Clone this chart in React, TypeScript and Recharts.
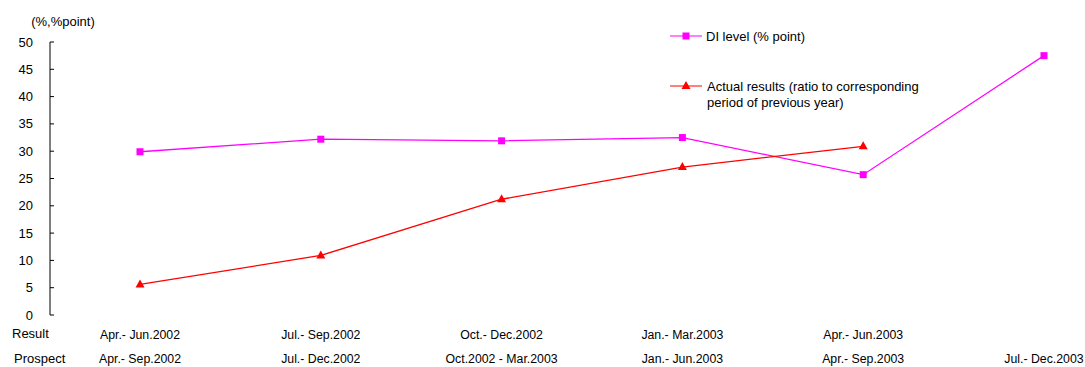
import React from 'react';
import { Legend, Line, LineChart, XAxis, YAxis } from 'recharts';

// Survey periods: the result period and the prospect period share one slot
const resultPeriods = [
  'Apr.- Jun.2002',
  'Jul.- Sep.2002',
  'Oct.- Dec.2002',
  'Jan.- Mar.2003',
  'Apr.- Jun.2003',
  '',
];
const prospectPeriods = [
  'Apr.- Sep.2002',
  'Jul.- Dec.2002',
  'Oct.2002 - Mar.2003',
  'Jan.- Jun.2003',
  'Apr.- Sep.2003',
  'Jul.- Dec.2003',
];

// DI level (% point) and actual results (ratio to same period of previous year)
const diLevel = [29.9, 32.2, 31.9, 32.5, 25.7, 47.5];
const actualResults: (number | null)[] = [5.6, 10.9, 21.2, 27.1, 30.9, null];

const yTicks = [0, 5, 10, 15, 20, 25, 30, 35, 40, 45, 50];

const data = prospectPeriods.map((period, i) => ({
  period,
  result: resultPeriods[i],
  di: diLevel[i],
  actual: actualResults[i],
}));

const MAGENTA = '#FF00FF';
const RED = '#FF0000';
const FONT = '"Liberation Sans", Arial, sans-serif';

const SquareDot = (props: any) => {
  const { cx, cy, index } = props;
  if (cx == null || cy == null) return <g key={`sq-${index}`} />;
  return <rect key={`sq-${index}`} x={cx - 3.5} y={cy - 3.5} width={7} height={7} fill={MAGENTA} />;
};

const TriangleDot = (props: any) => {
  const { cx, cy, index } = props;
  if (cx == null || cy == null) return <g key={`tr-${index}`} />;
  return (
    <polygon
      key={`tr-${index}`}
      points={`${cx},${cy - 5} ${cx - 4.5},${cy + 3} ${cx + 4.5},${cy + 3}`}
      fill={RED}
    />
  );
};

// y ticks point inwards, labels sit well left of the axis
const YTick = (props: any) => {
  const { x, y, payload } = props;
  return (
    <g>
      <line x1={x} y1={y} x2={x + 4} y2={y} stroke="#000" />
      <text x={x - 17} y={y + 4.5} textAnchor="end" fontSize={13} fill="#000" fontFamily={FONT}>
        {payload.value}
      </text>
    </g>
  );
};

// two rows of period labels under each point
const XTick = (props: any) => {
  const { x, y, index } = props;
  return (
    <g>
      <text x={x} y={y + 24} textAnchor="middle" fontSize={12.3} fill="#000" fontFamily={FONT}>
        {resultPeriods[index]}
      </text>
      <text x={x} y={y + 48} textAnchor="middle" fontSize={12.3} fill="#000" fontFamily={FONT}>
        {prospectPeriods[index]}
      </text>
    </g>
  );
};

const RowLabels = (props: any) => {
  const { viewBox } = props;
  return (
    <g fontFamily={FONT} fontSize={13} fill="#000">
      <text x={viewBox.x - 38} y={viewBox.y + 23}>Result</text>
      <text x={viewBox.x - 36} y={viewBox.y + 48}>Prospect</text>
    </g>
  );
};

const UnitLabel = (props: any) => {
  const { viewBox } = props;
  return (
    <text
      x={viewBox.x + viewBox.width + 13}
      y={26}
      textAnchor="middle"
      fontSize={13}
      fill="#000"
      fontFamily={FONT}
    >
      (%,%point)
    </text>
  );
};

const renderLegend = () => (
  <svg width={300} height={90} style={{ display: 'block', fontFamily: FONT }}>
    <line x1={2} y1={8} x2={34} y2={8} stroke={MAGENTA} />
    <rect x={14.5} y={4.5} width={7} height={7} fill={MAGENTA} />
    <text x={38} y={12.5} fontSize={13} fill="#000">DI level (% point)</text>
    <line x1={2} y1={58} x2={34} y2={58} stroke={RED} />
    <polygon points="18,53 13.5,61 22.5,61" fill={RED} />
    <text x={39} y={62.5} fontSize={13} fill="#000">Actual results (ratio to corresponding</text>
    <text x={39} y={78.5} fontSize={13} fill="#000">period of previous year)</text>
  </svg>
);

export default function App() {
  return (
    <div style={{ position: 'absolute', left: 0, top: 0, background: '#fff' }}>
      <LineChart
        width={1085}
        height={367}
        data={data}
        margin={{ top: 42, right: 41, left: 0, bottom: 0 }}
        style={{ fontFamily: FONT }}
      >
        <XAxis
          dataKey="period"
          axisLine={false}
          tickLine={false}
          tickSize={0}
          tickMargin={0}
          height={52}
          interval={0}
          padding={{ left: 90, right: 0 }}
          tick={<XTick />}
          label={{ content: <RowLabels /> }}
        />
        <YAxis
          domain={[0, 50]}
          ticks={yTicks}
          width={50}
          axisLine={{ stroke: '#000' }}
          tickLine={false}
          tickSize={0}
          tickMargin={0}
          interval={0}
          tick={<YTick />}
          label={{ content: <UnitLabel /> }}
        />
        <Legend
          layout="horizontal"
          verticalAlign="middle"
          align="center"
          content={renderLegend}
          wrapperStyle={{ left: 668, top: 28, width: 300, height: 90 }}
        />
        <Line
          dataKey="di"
          stroke={MAGENTA}
          strokeWidth={1.3}
          dot={SquareDot}
          activeDot={false}
          isAnimationActive={false}
        />
        <Line
          dataKey="actual"
          stroke={RED}
          strokeWidth={1.3}
          dot={TriangleDot}
          activeDot={false}
          connectNulls={false}
          isAnimationActive={false}
        />
      </LineChart>
    </div>
  );
}
